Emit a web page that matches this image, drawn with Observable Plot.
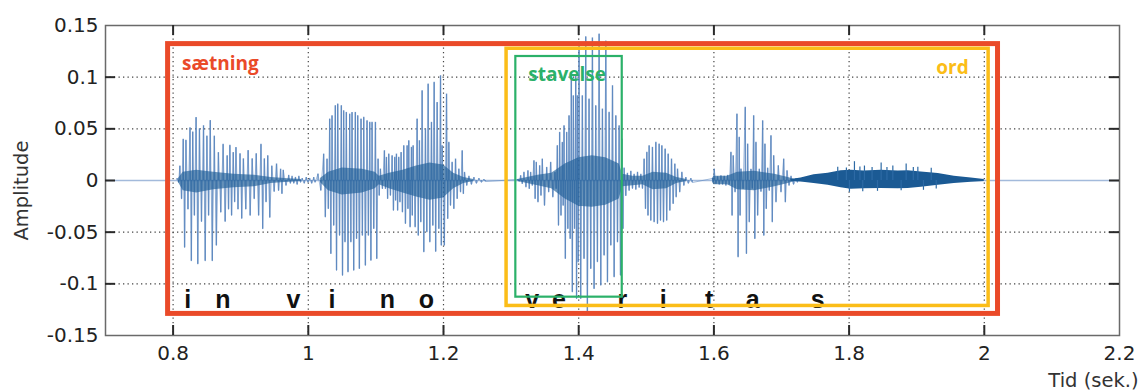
<!DOCTYPE html>
<html><head><meta charset="utf-8">
<script src="https://cdn.jsdelivr.net/npm/d3@7"></script>
<script src="https://cdn.jsdelivr.net/npm/@observablehq/plot@0.6"></script>
<style>body{margin:0;background:#fff}#chart svg{display:block}</style>
</head><body><div id="chart"></div>
<script>
// ---- axes ----
const xTicks = [0.8, 1, 1.2, 1.4, 1.6, 1.8, 2, 2.2];
const xTickLabels = ["0.8", "1", "1.2", "1.4", "1.6", "1.8", "2", "2.2"];
const yTicks = [-0.15, -0.1, -0.05, 0, 0.05, 0.1, 0.15];
const yTickLabels = ["-0.15", "-0.1", "-0.05", "0", "0.05", "0.1", "0.15"];
const xLabel = "Tid (sek.)";
const yLabel = "Amplitude";

// ---- waveform peaks per syllable: [time (s), upper peak, lower peak] ----
const sylIn = [
  [0.806,0.002,-0.002],[0.810,0.014,-0.018],[0.815,0.040,-0.065],[0.819,0.039,-0.028],
  [0.825,0.051,-0.078],[0.829,0.047,-0.034],[0.834,0.061,-0.081],[0.839,0.050,-0.040],
  [0.845,0.053,-0.078],[0.850,0.043,-0.034],[0.855,0.058,-0.078],[0.861,0.043,-0.063],
  [0.867,0.027,-0.031],[0.874,0.035,-0.040],[0.880,0.024,-0.028],[0.884,0.034,-0.034],
  [0.889,0.027,-0.021],[0.893,0.032,-0.028],[0.899,0.026,-0.037],[0.904,0.021,-0.028],
  [0.911,0.029,-0.034],[0.917,0.021,-0.018],[0.923,0.026,-0.034],[0.930,0.035,-0.047],
  [0.935,0.021,-0.021],[0.940,0.024,-0.036],[0.946,0.014,-0.011],[0.953,0.016,-0.010],
  [0.959,0.011,-0.013],[0.963,0.010,-0.005],[0.971,0.005,-0.003],[0.976,0.004,-0.003],
  [0.981,0.003,-0.004],[0.986,0.004,-0.002],[0.991,0.002,-0.003],[0.997,0.003,-0.002],
  [1.002,0.002,-0.003],[1.008,0.003,-0.002]
];
const sylVino = [
  [1.0143,0.0063,-0.0098],[1.0227,0.0256,-0.0356],[1.0277,0.0208,-0.0276],[1.0316,0.0595,-0.0711],
  [1.0351,0.0627,-0.0437],[1.0400,0.0724,-0.0872],[1.0435,0.0740,-0.0534],[1.0489,0.0724,-0.0921],
  [1.0523,0.0675,-0.0598],[1.0563,0.0659,-0.0888],[1.0612,0.0643,-0.0598],[1.0647,0.0659,-0.0872],
  [1.0696,0.0659,-0.0566],[1.0731,0.0627,-0.0856],[1.0780,0.0595,-0.0534],[1.0820,0.0611,-0.0824],
  [1.0869,0.0579,-0.0534],[1.0909,0.0563,-0.0776],[1.0943,0.0563,-0.0469],[1.0993,0.0563,-0.0759],
  [1.1032,0.0208,-0.0147],[1.1067,0.0111,-0.0082],[1.1126,0.0288,-0.0082],[1.1156,0.0224,-0.0179],
  [1.1190,0.0256,-0.0147],[1.1240,0.0240,-0.0292],[1.1279,0.0224,-0.0195],[1.1304,0.0256,-0.0292],
  [1.1338,0.0224,-0.0211],[1.1373,0.0272,-0.0308],[1.1412,0.0337,-0.0420],[1.1462,0.0337,-0.0276],
  [1.1486,0.0385,-0.0453],[1.1526,0.0321,-0.0340],[1.1551,0.0337,-0.0453],[1.1610,0.0595,-0.0534],
  [1.1644,0.0385,-0.0404],[1.1684,0.0869,-0.0694],[1.1733,0.0498,-0.0501],[1.1773,0.0933,-0.0598],
  [1.1822,0.0563,-0.0437],[1.1862,0.0950,-0.0690],[1.1906,0.0756,-0.0469],[1.1956,0.1014,-0.0630],
  [1.1980,0.0337,-0.0630],[1.2045,0.0837,-0.0372],[1.2079,0.0369,-0.0244],[1.2128,0.0176,-0.0276],
  [1.2178,0.0208,-0.0179],[1.2227,0.0111,-0.0114],[1.2277,0.0288,-0.0131],[1.2311,0.0079,-0.0050],
  [1.2376,0.0040,-0.0040],[1.2450,0.0030,-0.0030],[1.2524,0.0020,-0.0020],[1.2598,0.0010,-0.0010]
];
const sylVeri = [
  [1.3100,0.0010,-0.0010],[1.3141,0.0047,-0.0034],[1.3190,0.0079,-0.0066],[1.3249,0.0095,-0.0082],
  [1.3289,0.0079,-0.0050],[1.3338,0.0192,-0.0179],[1.3373,0.0176,-0.0211],[1.3422,0.0143,-0.0147],
  [1.3462,0.0208,-0.0244],[1.3526,0.0127,-0.0114],[1.3585,0.0176,-0.0163],[1.3649,0.0079,-0.0082],
  [1.3684,0.0337,-0.0437],[1.3718,0.0466,-0.0340],[1.3758,0.0369,-0.0244],[1.3783,0.0530,-0.0759],
  [1.3822,0.0466,-0.0469],[1.3857,0.0627,-0.0566],[1.3891,0.1046,-0.1081],[1.3921,0.0820,-0.0469],
  [1.3956,0.1014,-0.1146],[1.3980,0.0820,-0.0791],[1.4005,0.1340,-0.1146],[1.4054,0.0820,-0.0759],
  [1.4104,0.1390,-0.1270],[1.4153,0.0788,-0.0856],[1.4203,0.1380,-0.1050],[1.4252,0.0724,-0.0790],
  [1.4302,0.1417,-0.1017],[1.4351,0.0692,-0.0727],[1.4401,0.1350,-0.0985],[1.4450,0.0660,-0.0630],
  [1.4500,0.0917,-0.0936],[1.4549,0.0627,-0.0598],[1.4598,0.0530,-0.0920],[1.4638,0.0401,-0.0469],
  [1.4672,0.0120,-0.0150],[1.4721,0.0070,-0.0100],[1.4771,0.0090,-0.0080],[1.4820,0.0060,-0.0090],
  [1.4870,0.0080,-0.0070],[1.4919,0.0060,-0.0080],[1.4968,0.0208,-0.0276],[1.5008,0.0273,-0.0340],
  [1.5042,0.0337,-0.0389],[1.5091,0.0321,-0.0404],[1.5141,0.0369,-0.0420],[1.5190,0.0353,-0.0389],
  [1.5230,0.0337,-0.0404],[1.5279,0.0305,-0.0389],[1.5324,0.0256,-0.0292],[1.5373,0.0208,-0.0227],
  [1.5422,0.0160,-0.0163],[1.5462,0.0111,-0.0114],[1.5526,0.0079,-0.0050],[1.5585,0.0030,-0.0030],
  [1.5659,0.0020,-0.0020]
];
const sylTas = [
  [1.5980,0.0020,-0.0020],[1.6005,0.0111,-0.0034],[1.6054,0.0037,-0.0040],[1.6104,0.0045,-0.0040],
  [1.6153,0.0040,-0.0050],[1.6202,0.0050,-0.0040],[1.6252,0.0273,-0.0340],[1.6286,0.0240,-0.0114],
  [1.6341,0.0643,-0.0743],[1.6375,0.0418,-0.0340],[1.6400,0.0111,-0.0082],[1.6464,0.0708,-0.0711],
  [1.6499,0.0353,-0.0404],[1.6548,0.0110,-0.0080],[1.6588,0.0627,-0.0566],[1.6622,0.0369,-0.0340],
  [1.6672,0.0110,-0.0110],[1.6721,0.0578,-0.0534],[1.6755,0.0353,-0.0276],[1.6795,0.0120,-0.0100],
  [1.6844,0.0434,-0.0404],[1.6884,0.0240,-0.0211],[1.6953,0.0143,-0.0114],[1.7032,0.0208,-0.0211],
  [1.7082,0.0095,-0.0050],[1.7141,0.0040,-0.0040],[1.7215,0.0020,-0.0020]
];

// dense dark core of the voiced parts: [time, upper, lower]
const coreIn = [[0.808,0.002,-0.002],[0.815,0.008,-0.010],[0.835,0.010,-0.012],[0.860,0.008,-0.009],
  [0.890,0.006,-0.007],[0.920,0.005,-0.006],[0.945,0.003,-0.003],[0.965,0.002,-0.002],[0.990,0.001,-0.001]];
const coreVino = [[1.018,0.002,-0.002],[1.030,0.008,-0.010],[1.050,0.012,-0.014],[1.080,0.011,-0.012],
  [1.099,0.008,-0.008],[1.105,0.004,-0.004],[1.120,0.007,-0.008],[1.140,0.010,-0.012],[1.160,0.014,-0.016],
  [1.180,0.017,-0.019],[1.200,0.015,-0.017],[1.215,0.007,-0.008],[1.230,0.003,-0.003],[1.245,0.001,-0.001]];
const coreVeri = [[1.310,0.001,-0.001],[1.340,0.005,-0.005],[1.360,0.007,-0.008],[1.380,0.016,-0.018],
  [1.400,0.022,-0.025],[1.420,0.024,-0.026],[1.440,0.022,-0.024],[1.460,0.016,-0.018],[1.465,0.006,-0.006],
  [1.480,0.004,-0.005],[1.495,0.004,-0.004],[1.510,0.008,-0.009],[1.530,0.007,-0.008],[1.545,0.003,-0.003],[1.560,0.001,-0.001]];
const coreTas = [[1.598,0.002,-0.002],[1.600,0.004,-0.004],[1.620,0.004,-0.004],[1.635,0.008,-0.009],
  [1.660,0.009,-0.010],[1.690,0.006,-0.006],[1.710,0.003,-0.003],[1.720,0.001,-0.001]];

// fricative "s" noise envelope and its tallest peaks
const noiseBand = [[1.7141,0.001,-0.001],[1.7289,0.0025,-0.0015],[1.7481,0.0055,-0.0030],[1.7689,0.0070,-0.0045],
  [1.7881,0.0095,-0.0070],[1.8030,0.0100,-0.0085],[1.8222,0.0092,-0.0080],[1.8474,0.0100,-0.0078],[1.8726,0.0093,-0.0080],
  [1.8874,0.0095,-0.0078],[1.9067,0.0082,-0.0065],[1.9319,0.0068,-0.0045],[1.9556,0.0042,-0.0030],[1.9807,0.0025,-0.0018],[2.0000,0.001,-0.001]];
const noisePeaks = [[1.7832,0.0128],[1.7960,0.0120],[1.8079,0.0182],[1.8160,0.0130],[1.8227,0.014],[1.8340,0.0125],
  [1.8474,0.017],[1.8560,0.0125],[1.8647,0.014],[1.8844,0.016],[1.8950,0.0125],[1.9017,0.0128],[1.9215,0.0118],
  [1.8005,-0.0114],[1.8202,-0.011],[1.8420,-0.0105],[1.8770,-0.010],[1.9100,-0.0095],[1.9289,-0.0082]];

// ---- phonetic letters ----
const phones = ["i","n","v","i","n","o","v","e","r","i","t","a","s"];
const phoneT = [0.8218,0.8736,0.9782,1.0351,1.117,1.1748,1.3314,1.3708,1.4647,1.5249,1.593,1.6573,1.7536];
const phoneBaseline = -0.1233;

// ---- annotation boxes ----
const boxNames = ["sætning", "ord", "stavelse"];
const boxStart = [0.7926, 1.2933, 1.3070];
const boxEnd = [2.0203, 2.0064, 1.4644];
const boxTop = [0.1320, 0.1275, 0.1200];
const boxBottom = [-0.1291, -0.1214, -0.1129];
const labelT = [0.8133, 1.9289, 1.3255];
const labelA = [0.1073, 0.1030, 0.0965];

// styles
const boxColor = {"sætning": "#ea4a29", "ord": "#fbbd18", "stavelse": "#2bb169"};
const boxWidth = {"sætning": 5, "ord": 3.5, "stavelse": 2.2};

// ---- build tables ----
const zig = [];
const spikes = [];
[sylIn, sylVino, sylVeri, sylTas].forEach(syl => syl.forEach((r, i) => {
  const nx = syl[i + 1];
  const tm = nx ? (r[0] + nx[0]) / 2 : r[0] + 0.002;
  zig.push({t: r[0], a: r[1]}, {t: tm, a: r[2]});
  spikes.push({t: r[0], a: r[1]}, {t: tm, a: r[2]});
}));
const core = [];
[coreIn, coreVino, coreVeri, coreTas].forEach((c, s) => c.forEach(r => core.push({seg: s, t: r[0], hi: r[1], lo: r[2]})));
const noise = noiseBand.map(r => ({t: r[0], hi: r[1], lo: r[2]}));
const peaks = noisePeaks.map(r => ({t: r[0], a: r[1]}));
const phoneRows = phones.map((p, i) => ({p, t: phoneT[i], a: phoneBaseline}));
const boxes = boxNames.map((n, i) => ({n, x1: boxStart[i], x2: boxEnd[i], y1: boxBottom[i], y2: boxTop[i], lt: labelT[i], la: labelA[i]}));

const innerX = xTicks.filter(d => d > 0.7 && d < 2.2);
const innerY = yTicks.filter(d => d > -0.15 && d < 0.15);
const axisFont = "DejaVu Sans, sans-serif";

const chart = Plot.plot({
  width: 1138, height: 391,
  marginLeft: 105, marginRight: 19, marginTop: 25, marginBottom: 56,
  x: {domain: [0.7, 2.2]},
  y: {domain: [-0.15, 0.15]},
  style: {fontFamily: axisFont, fontSize: "20px", color: "#222", background: "#fff"},
  marks: [
    Plot.gridX(innerX, {stroke: "#444", strokeOpacity: 1, strokeDasharray: "1.3,3.2", strokeWidth: 1.2}),
    Plot.gridY(innerY, {stroke: "#444", strokeOpacity: 1, strokeDasharray: "1.3,3.2", strokeWidth: 1.2}),
    Plot.ruleY([0], {stroke: "#a3badb", strokeWidth: 1.6}),
    Plot.line(zig, {x: "t", y: "a", stroke: "#5b87bf", strokeWidth: 1, strokeOpacity: 0.55}),
    Plot.ruleX(spikes, {x: "t", y1: 0, y2: "a", stroke: "#5683bd", strokeWidth: 1.4, strokeOpacity: 0.8}),
    Plot.areaY(core, {x: "t", y1: "lo", y2: "hi", z: "seg", fill: "#1f5d96", fillOpacity: 0.65}),
    Plot.areaY(noise, {x: "t", y1: "lo", y2: "hi", fill: "#1b5a94"}),
    Plot.ruleX(peaks, {x: "t", y1: 0, y2: "a", stroke: "#2d6aa5", strokeWidth: 1.2}),
    Plot.text(phoneRows, {x: "t", y: "a", text: "p", lineAnchor: "bottom", fontFamily: "Liberation Sans, Arial, sans-serif", fontWeight: "bold", fontSize: 25, fill: "#111"}),
    Plot.rect(boxes, {x1: "x1", x2: "x2", y1: "y1", y2: "y2", fill: "none", stroke: d => boxColor[d.n], strokeWidth: d => boxWidth[d.n]}),
    Plot.text(boxes, {x: "lt", y: "la", text: "n", textAnchor: "start", lineAnchor: "bottom", fill: d => boxColor[d.n], fontFamily: "Open Sans, sans-serif", fontWeight: "bold", fontSize: 19}),
    Plot.frame({stroke: "#6a6a6a", strokeWidth: 1.5}),
    Plot.tickX(innerX, {x: d => d, insetTop: 300, stroke: "#2a2a2a", strokeWidth: 2}),
    Plot.tickX(innerX, {x: d => d, insetBottom: 300, stroke: "#2a2a2a", strokeWidth: 2}),
    Plot.tickY(innerY, {y: d => d, insetRight: 1004, stroke: "#2a2a2a", strokeWidth: 2}),
    Plot.tickY(innerY, {y: d => d, insetLeft: 1004, stroke: "#2a2a2a", strokeWidth: 2}),
    Plot.axisX({ticks: xTicks, tickFormat: d => xTickLabels[xTicks.indexOf(d)], tickSize: 0, tickPadding: 10, label: null, fontSize: 20, fill: "#222"}),
    Plot.axisY({ticks: yTicks, tickFormat: d => yTickLabels[yTicks.indexOf(d)], tickSize: 0, tickPadding: 7, label: null, fontSize: 20, fill: "#222"}),
    Plot.text([xLabel], {frameAnchor: "bottom-right", text: d => d, dx: 19, dy: 51, textAnchor: "end", lineAnchor: "bottom", fontSize: 19.5, fill: "#333"}),
    Plot.text([yLabel], {frameAnchor: "left", text: d => d, dx: -84, dy: 10, rotate: -90, textAnchor: "middle", lineAnchor: "middle", fontSize: 19.5, fill: "#333"})
  ]
});
document.getElementById("chart").appendChild(chart);
</script>
</body></html>
